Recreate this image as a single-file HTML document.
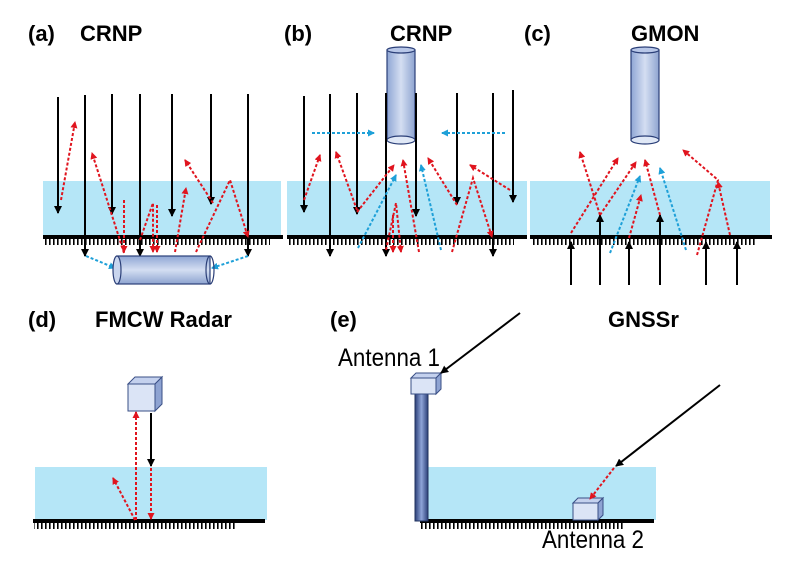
<!DOCTYPE html>
<html><head><meta charset="utf-8"><style>
html,body{margin:0;padding:0;background:#fff}
svg{display:block}
text{font-family:"Liberation Sans",Arial,sans-serif}
</style></head><body>
<svg width="787" height="585" viewBox="0 0 787 585" xmlns="http://www.w3.org/2000/svg">
<defs>
<marker id="ab" markerWidth="8" markerHeight="8" refX="7" refY="4" orient="auto" markerUnits="userSpaceOnUse"><path d="M0,0 L8,4 L0,8 Z" fill="#000"/></marker>
<marker id="ar" markerWidth="7" markerHeight="7" refX="6" refY="3.5" orient="auto" markerUnits="userSpaceOnUse"><path d="M0,0 L7,3.5 L0,7 Z" fill="#e0141e"/></marker>
<marker id="ac" markerWidth="7" markerHeight="7" refX="6" refY="3.5" orient="auto" markerUnits="userSpaceOnUse"><path d="M0,0 L7,3.5 L0,7 Z" fill="#1ea0d8"/></marker>
<pattern id="hatch" width="4" height="7" patternUnits="userSpaceOnUse"><rect x="1" y="0" width="1.6" height="7" fill="#000"/></pattern>
<linearGradient id="cyl" x1="0" y1="0" x2="1" y2="0"><stop offset="0" stop-color="#8fa6d4"/><stop offset="0.5" stop-color="#d4def2"/><stop offset="1" stop-color="#8ea4d0"/></linearGradient>
<linearGradient id="cylh" x1="0" y1="0" x2="0" y2="1"><stop offset="0" stop-color="#8fa6d4"/><stop offset="0.5" stop-color="#d4def2"/><stop offset="1" stop-color="#8ea4d0"/></linearGradient>
<linearGradient id="pole" x1="0" y1="0" x2="1" y2="0"><stop offset="0" stop-color="#2b3f78"/><stop offset="0.5" stop-color="#8ea4d8"/><stop offset="1" stop-color="#2b3f78"/></linearGradient>
</defs>

<!-- water bands -->
<rect x="43" y="181" width="238" height="54" fill="#b5e6f7"/>
<rect x="287" y="181" width="240" height="54" fill="#b5e6f7"/>
<rect x="530" y="181" width="240" height="54" fill="#b5e6f7"/>
<rect x="35" y="467" width="232" height="53" fill="#b5e6f7"/>
<rect x="428" y="467" width="228" height="53" fill="#b5e6f7"/>

<!-- ground -->
<g>
<rect x="43" y="235" width="240" height="4" fill="#000"/><rect x="44" y="239" width="226" height="6" fill="url(#hatch)"/>
<rect x="287" y="235" width="240" height="4" fill="#000"/><rect x="288" y="239" width="226" height="6" fill="url(#hatch)"/>
<rect x="530" y="235" width="242" height="4" fill="#000"/><rect x="531" y="239" width="226" height="6" fill="url(#hatch)"/>
<rect x="33" y="519" width="232" height="4" fill="#000"/><rect x="34" y="523" width="202" height="6" fill="url(#hatch)"/>
<rect x="420" y="519" width="234" height="4" fill="#000"/><rect x="421" y="523" width="204" height="6" fill="url(#hatch)"/>
</g>

<!-- titles -->
<g font-weight="bold" font-size="22" fill="#000">
<text x="28" y="41">(a)</text><text x="80" y="41">CRNP</text>
<text x="284" y="41">(b)</text><text x="390" y="41">CRNP</text>
<text x="524" y="41">(c)</text><text x="631" y="41">GMON</text>
<text x="28" y="327">(d)</text><text x="95" y="327" textLength="137" lengthAdjust="spacingAndGlyphs">FMCW Radar</text>
<text x="330" y="327">(e)</text><text x="608" y="327">GNSSr</text>
</g>
<text x="338" y="366" font-size="25" textLength="102" lengthAdjust="spacingAndGlyphs">Antenna 1</text>
<text x="542" y="548" font-size="25" textLength="102" lengthAdjust="spacingAndGlyphs">Antenna 2</text>

<!-- Panel a -->
<g stroke="#000" stroke-width="2" marker-end="url(#ab)">
<line x1="58" y1="97" x2="58" y2="213"/><line x1="85" y1="95" x2="85" y2="256"/>
<line x1="112" y1="94" x2="112" y2="214"/><line x1="140" y1="94" x2="140" y2="256"/>
<line x1="172" y1="94" x2="172" y2="216"/><line x1="211" y1="94" x2="211" y2="204"/>
<line x1="248" y1="94" x2="248" y2="256"/>
</g>
<g stroke="#e0141e" stroke-width="2" stroke-dasharray="3,2" fill="none" marker-end="url(#ar)">
<line x1="61" y1="200" x2="75" y2="122"/>
<line x1="124" y1="253" x2="92" y2="153"/>
<polyline points="140,240 153,203 153,252"/>
<line x1="175" y1="252" x2="186" y2="188"/>
<line x1="213" y1="203" x2="185" y2="160"/>
<polyline points="196,252 230,180 248,237"/>
<line x1="124" y1="200" x2="124" y2="252"/>
<line x1="157" y1="205" x2="157" y2="252"/>
</g>
<g stroke="#1ea0d8" stroke-width="2" stroke-dasharray="3,2" marker-end="url(#ac)">
<line x1="86" y1="256" x2="115" y2="268"/>
<line x1="248" y1="256" x2="212" y2="268"/>
</g>
<rect x="117" y="256" width="93" height="28" fill="url(#cylh)" stroke="#2b3f78" stroke-width="1.2"/>
<ellipse cx="117" cy="270" rx="4" ry="14" fill="#c9d5ee" stroke="#2b3f78" stroke-width="1.2"/>
<ellipse cx="210" cy="270" rx="4" ry="14" fill="none" stroke="#2b3f78" stroke-width="1.2"/>

<!-- Panel b -->
<rect x="387" y="50" width="28" height="90" fill="url(#cyl)" stroke="#2b3f78" stroke-width="1.2"/>
<ellipse cx="401" cy="50" rx="14" ry="3" fill="#b8c7e8" stroke="#2b3f78" stroke-width="1.2"/>
<ellipse cx="401" cy="140" rx="14" ry="4" fill="#e0e8f6" stroke="#2b3f78" stroke-width="1.2"/>
<g stroke="#000" stroke-width="2" marker-end="url(#ab)">
<line x1="304" y1="96" x2="304" y2="212"/><line x1="330" y1="94" x2="330" y2="256"/>
<line x1="357" y1="93" x2="357" y2="214"/><line x1="386" y1="93" x2="386" y2="256"/>
<line x1="416" y1="93" x2="416" y2="216"/><line x1="457" y1="93" x2="457" y2="204"/>
<line x1="493" y1="93" x2="493" y2="256"/><line x1="513" y1="90" x2="513" y2="202"/>
</g>
<g stroke="#1ea0d8" stroke-width="2" stroke-dasharray="3,2" marker-end="url(#ac)">
<line x1="312" y1="133" x2="374" y2="133"/>
<line x1="505" y1="133" x2="442" y2="133"/>
<line x1="358" y1="248" x2="396" y2="175"/>
<line x1="441" y1="250" x2="421" y2="165"/>
</g>
<g stroke="#e0141e" stroke-width="2" stroke-dasharray="3,2" fill="none" marker-end="url(#ar)">
<line x1="304" y1="200" x2="320" y2="155"/>
<polyline points="357,210 336,152"/>
<polyline points="357,212 394,165"/>
<line x1="419" y1="252" x2="403" y2="160"/>
<polyline points="386,250 396,203 401,252"/>
<line x1="393" y1="215" x2="393" y2="252"/>
<line x1="457" y1="205" x2="428" y2="158"/>
<polyline points="452,252 473,178 492,237"/>
<line x1="510" y1="190" x2="470" y2="165"/>
</g>

<!-- Panel c -->
<rect x="631" y="50" width="28" height="90" fill="url(#cyl)" stroke="#2b3f78" stroke-width="1.2"/>
<ellipse cx="645" cy="50" rx="14" ry="3" fill="#b8c7e8" stroke="#2b3f78" stroke-width="1.2"/>
<ellipse cx="645" cy="140" rx="14" ry="4" fill="#e0e8f6" stroke="#2b3f78" stroke-width="1.2"/>
<g stroke="#000" stroke-width="2" marker-end="url(#ab)">
<line x1="571" y1="285" x2="571" y2="242"/><line x1="600" y1="285" x2="600" y2="215"/>
<line x1="629" y1="285" x2="629" y2="242"/><line x1="660" y1="285" x2="660" y2="215"/>
<line x1="706" y1="285" x2="706" y2="242"/><line x1="737" y1="285" x2="737" y2="242"/>
</g>
<g stroke="#e0141e" stroke-width="2" stroke-dasharray="3,2" fill="none" marker-end="url(#ar)">
<line x1="571" y1="233" x2="618" y2="158"/>
<line x1="600" y1="215" x2="580" y2="152"/>
<line x1="600" y1="215" x2="636" y2="162"/>
<line x1="660" y1="215" x2="645" y2="160"/>
<line x1="629" y1="238" x2="641" y2="195"/>
<polyline points="697,255 718,180 683,150"/>
<line x1="730" y1="235" x2="718" y2="182"/>
</g>
<g stroke="#1ea0d8" stroke-width="2" stroke-dasharray="3,2" marker-end="url(#ac)">
<line x1="610" y1="253" x2="640" y2="176"/>
<line x1="686" y1="250" x2="660" y2="168"/>
</g>

<!-- Panel d -->
<g stroke="#e0141e" stroke-width="2" stroke-dasharray="3,2" fill="none" marker-end="url(#ar)">
<line x1="136" y1="520" x2="136" y2="412"/>
<line x1="151" y1="468" x2="151" y2="519"/>
<line x1="135" y1="520" x2="113" y2="478"/>
</g>
<line x1="151" y1="413" x2="151" y2="466" stroke="#000" stroke-width="2" marker-end="url(#ab)"/>
<g stroke="#3a4f86" stroke-width="1">
<polygon points="128,384 135,377 162,377 155,384" fill="#c4d1ee"/>
<polygon points="155,384 162,377 162,404 155,411" fill="#8ea3d2"/>
<rect x="128" y="384" width="27" height="27" fill="#dbe4f6"/>
</g>

<!-- Panel e -->
<rect x="415" y="393" width="13" height="128" fill="url(#pole)" stroke="#22335f" stroke-width="1"/>
<g stroke="#3a4f86" stroke-width="1">
<polygon points="411,378 416,373 441,373 436,378" fill="#c4d1ee"/>
<polygon points="436,378 441,373 441,389 436,394" fill="#8ea3d2"/>
<rect x="411" y="378" width="25" height="16" fill="#dbe4f6"/>
<polygon points="573,503 578,498 603,498 598,503" fill="#c4d1ee"/>
<polygon points="598,503 603,498 603,515 598,520" fill="#8ea3d2"/>
<rect x="573" y="503" width="25" height="17" fill="#dbe4f6"/>
</g>
<g stroke="#000" stroke-width="2" marker-end="url(#ab)">
<line x1="520" y1="313" x2="441" y2="373"/>
<line x1="720" y1="385" x2="616" y2="466"/>
</g>
<line x1="614" y1="468" x2="590" y2="499" stroke="#e0141e" stroke-width="2" stroke-dasharray="3,2" marker-end="url(#ar)"/>
</svg>
</body></html>
